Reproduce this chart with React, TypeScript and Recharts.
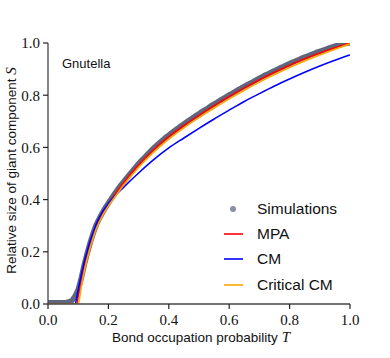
import React from 'react';
import {
  ComposedChart,
  Line,
  XAxis,
  YAxis,
  Legend,
  Label,
} from 'recharts';

// ---- data ----
const tickValues = [0, 0.2, 0.4, 0.6, 0.8, 1.0];

const simT = [
  0, 0.01, 0.02, 0.03, 0.04, 0.05, 0.06, 0.07, 0.08, 0.09,
  0.1, 0.11, 0.12, 0.13, 0.14, 0.15, 0.16, 0.17, 0.18, 0.19,
  0.2, 0.21, 0.22, 0.23, 0.24, 0.25, 0.26, 0.27, 0.28, 0.29,
  0.3, 0.31, 0.32, 0.33, 0.34, 0.35, 0.36, 0.37, 0.38, 0.39,
  0.4, 0.41, 0.42, 0.43, 0.44, 0.45, 0.46, 0.47, 0.48, 0.49,
  0.5, 0.51, 0.52, 0.53, 0.54, 0.55, 0.56, 0.57, 0.58, 0.59,
  0.6, 0.61, 0.62, 0.63, 0.64, 0.65, 0.66, 0.67, 0.68, 0.69,
  0.7, 0.71, 0.72, 0.73, 0.74, 0.75, 0.76, 0.77, 0.78, 0.79,
  0.8, 0.81, 0.82, 0.83, 0.84, 0.85, 0.86, 0.87, 0.88, 0.89,
  0.9, 0.91, 0.92, 0.93, 0.94, 0.95, 0.96, 0.97, 0.98, 0.99, 1.0,
];
const simS = [
  0.005, 0.005, 0.005, 0.005, 0.005, 0.005, 0.006, 0.008, 0.014, 0.03,
  0.055, 0.098, 0.15, 0.195, 0.236, 0.272, 0.304, 0.328, 0.349, 0.369,
  0.387, 0.404, 0.421, 0.437, 0.453, 0.468, 0.482, 0.496, 0.51, 0.524,
  0.538, 0.55, 0.562, 0.574, 0.586, 0.598, 0.608, 0.618, 0.628, 0.638,
  0.647, 0.656, 0.665, 0.673, 0.682, 0.69, 0.698, 0.706, 0.714, 0.722,
  0.729, 0.737, 0.744, 0.751, 0.759, 0.766, 0.773, 0.78, 0.787, 0.794,
  0.801, 0.807, 0.814, 0.821, 0.827, 0.834, 0.84, 0.846, 0.852, 0.859,
  0.865, 0.871, 0.877, 0.882, 0.888, 0.894, 0.899, 0.905, 0.91, 0.916,
  0.921, 0.926, 0.931, 0.936, 0.941, 0.946, 0.95, 0.955, 0.959, 0.964,
  0.968, 0.972, 0.976, 0.98, 0.984, 0.988, 0.991, 0.994, 0.997, 0.999, 1.0,
];

const mpaT = [0, 0.095, 0.1, 0.11, 0.12, 0.13, 0.14, 0.15, 0.16, 0.18, 0.2, 0.22, 0.25, 0.3, 0.35, 0.4, 0.45, 0.5, 0.55, 0.6, 0.65, 0.7, 0.75, 0.8, 0.85, 0.9, 0.95, 1.0];
const mpaS = [0, 0, 0.03, 0.09, 0.145, 0.19, 0.232, 0.268, 0.3, 0.345, 0.383, 0.417, 0.464, 0.533, 0.592, 0.641, 0.684, 0.723, 0.76, 0.795, 0.828, 0.859, 0.888, 0.915, 0.94, 0.962, 0.982, 1.0];

const cmT = [0, 0.089, 0.1, 0.11, 0.12, 0.13, 0.14, 0.15, 0.16, 0.18, 0.2, 0.22, 0.25, 0.3, 0.35, 0.4, 0.45, 0.5, 0.55, 0.6, 0.65, 0.7, 0.75, 0.8, 0.85, 0.9, 0.95, 1.0];
const cmS = [0, 0, 0.055, 0.11, 0.16, 0.203, 0.242, 0.276, 0.306, 0.352, 0.385, 0.412, 0.447, 0.502, 0.553, 0.598, 0.636, 0.673, 0.709, 0.743, 0.776, 0.806, 0.835, 0.862, 0.888, 0.912, 0.934, 0.954];

const ccmT = [0, 0.1, 0.11, 0.12, 0.13, 0.14, 0.15, 0.16, 0.18, 0.2, 0.22, 0.25, 0.3, 0.35, 0.4, 0.45, 0.5, 0.55, 0.6, 0.65, 0.7, 0.75, 0.8, 0.85, 0.9, 0.95, 1.0];
const ccmS = [0, 0, 0.065, 0.125, 0.173, 0.217, 0.255, 0.288, 0.338, 0.376, 0.408, 0.455, 0.524, 0.582, 0.632, 0.675, 0.714, 0.751, 0.786, 0.819, 0.85, 0.879, 0.906, 0.931, 0.954, 0.976, 0.997];

const legendLabels = ['Simulations', 'MPA', 'CM', 'Critical CM'];

const toRows = (ts: number[], ss: number[]) => ts.map((t, i) => ({ T: t, S: ss[i] }));
const simData = toRows(simT, simS);
const mpaData = toRows(mpaT, mpaS);
const cmData = toRows(cmT, cmS);
const ccmData = toRows(ccmT, ccmS);

const SIM_COLOR = '#3b4462';
const SIM_LEGEND = '#8a8fa6';
const MPA_COLOR = '#ff0000';
const CM_COLOR = '#0000ff';
const CCM_COLOR = '#ffa500';
const AXIS_COLOR = '#444';

const SANS = '"Liberation Sans", Arial, sans-serif';
const SERIF = '"Liberation Serif", "DejaVu Serif", serif';

const legendColors = [SIM_LEGEND, MPA_COLOR, CM_COLOR, CCM_COLOR];

const LegendContent = () => (
  <div style={{ fontFamily: SANS, fontSize: 15.5, color: '#111' }}>
    {legendLabels.map((name, i) => (
      <div key={name} style={{ display: 'flex', alignItems: 'center', height: 25.3 }}>
        <svg width={24} height={12} style={{ marginRight: 11, flex: 'none' }}>
          {i === 0 ? (
            <circle cx={11} cy={6} r={3} fill={legendColors[i]} />
          ) : (
            <line x1={2} x2={21} y1={6} y2={6} stroke={legendColors[i]} strokeWidth={1.6} />
          )}
        </svg>
        <span style={{ whiteSpace: 'nowrap' }}>{name}</span>
      </div>
    ))}
  </div>
);

const XLabel = (props: any) => {
  const vb = props.viewBox || { x: 48, y: 304, width: 302 };
  return (
    <text x={vb.x + vb.width / 2 + 2} y={vb.y + 38} textAnchor="middle" fontFamily={SANS} fontSize={13.5} fill="#111">
      Bond occupation probability{' '}
      <tspan fontFamily={SERIF} fontStyle="italic" fontSize={15}>T</tspan>
    </text>
  );
};

const YLabel = (props: any) => {
  const vb = props.viewBox || { x: 8, y: 43, width: 40, height: 261 };
  const cx = vb.x + 3;
  const cy = vb.y + vb.height / 2 - 3;
  return (
    <g>
      <text x={cx} y={cy} transform={`rotate(-90, ${cx}, ${cy})`} textAnchor="middle" dominantBaseline="central" fontFamily={SANS} fontSize={13.5} fill="#111">
        Relative size of giant component{' '}
        <tspan fontFamily={SERIF} fontStyle="italic" fontSize={15}>S</tspan>
      </text>
      <text x={vb.x + vb.width + 14} y={vb.y + 25} fontFamily={SANS} fontSize={13} fill="#111">
        Gnutella
      </text>
    </g>
  );
};

const fmt = (v: number) => v.toFixed(1);

export default function App() {
  return (
    <div style={{ position: 'absolute', left: 0, top: 0, width: 390, height: 358, background: '#fff' }}>
      <ComposedChart width={390} height={358} margin={{ top: 43, right: 40, bottom: 24, left: 8 }}>
        <XAxis
          dataKey="T"
          type="number"
          domain={[0, 1]}
          ticks={tickValues}
          tickFormatter={fmt}
          height={30}
          tickSize={5}
          tickMargin={5}
          axisLine={{ stroke: AXIS_COLOR, strokeWidth: 1.3 }}
          tickLine={{ stroke: '#222', strokeWidth: 1.2 }}
          tick={{ fill: '#111', fontFamily: SERIF, fontSize: 15 }}
          allowDataOverflow
        >
          <Label content={<XLabel />} />
        </XAxis>
        <XAxis
          xAxisId="top"
          orientation="top"
          dataKey="T"
          type="number"
          domain={[0, 1]}
          height={0}
          tick={false}
          tickLine={false}
          axisLine={{ stroke: AXIS_COLOR, strokeWidth: 1.3 }}
        />
        <YAxis
          type="number"
          domain={[0, 1]}
          ticks={tickValues}
          tickFormatter={fmt}
          width={40}
          tickSize={5}
          tickMargin={3}
          axisLine={{ stroke: AXIS_COLOR, strokeWidth: 1.3 }}
          tickLine={{ stroke: '#222', strokeWidth: 1.2 }}
          tick={{ fill: '#111', fontFamily: SERIF, fontSize: 15 }}
          allowDataOverflow
        >
          <Label content={<YLabel />} />
        </YAxis>
        <YAxis
          yAxisId="right"
          orientation="right"
          type="number"
          domain={[0, 1]}
          width={0}
          tick={false}
          tickLine={false}
          axisLine={{ stroke: AXIS_COLOR, strokeWidth: 1.3 }}
        />
        <Line
          name="Simulations"
          data={simData}
          dataKey="S"
          type="linear"
          stroke={SIM_COLOR}
          strokeWidth={5.5}
          strokeOpacity={0.82}
          strokeLinecap="round"
          dot={false}
          activeDot={false}
          legendType="circle"
          isAnimationActive={false}
        />
        <Line name="MPA" data={mpaData} dataKey="S" type="monotone" stroke={MPA_COLOR} strokeWidth={1.6} dot={false} activeDot={false} isAnimationActive={false} />
        <Line name="CM" data={cmData} dataKey="S" type="monotone" stroke={CM_COLOR} strokeWidth={1.6} dot={false} activeDot={false} isAnimationActive={false} />
        <Line name="Critical CM" data={ccmData} dataKey="S" type="monotone" stroke={CCM_COLOR} strokeWidth={1.6} dot={false} activeDot={false} isAnimationActive={false} />
        <Legend
          layout="vertical"
          align="center"
          verticalAlign="middle"
          content={<LegendContent />}
          wrapperStyle={{ position: 'absolute', left: 222, top: 196, width: 140 }}
        />
      </ComposedChart>
    </div>
  );
}
